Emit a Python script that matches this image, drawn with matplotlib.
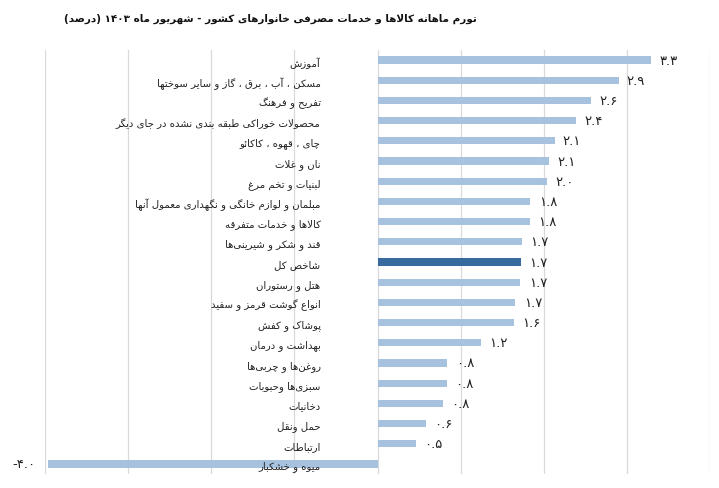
import re
import matplotlib
matplotlib.use('Agg')
import matplotlib.pyplot as plt

# chart data (top to bottom)
categories = [
    'آموزش',
    'مسکن ، آب ، برق ، گاز و سایر سوختها',
    'تفریح و فرهنگ',
    'محصولات خوراکی طبقه بندی نشده در جای دیگر',
    'چای ، قهوه ، کاکائو',
    'نان و غلات',
    'لبنیات و تخم مرغ',
    'مبلمان و لوازم خانگی و نگهداری معمول آنها',
    'کالاها و خدمات متفرقه',
    'قند و شکر و شیرینی\u200cها',
    'شاخص کل',
    'هتل و رستوران',
    'انواع گوشت قرمز و سفید',
    'پوشاک و کفش',
    'بهداشت و درمان',
    'روغن\u200cها و چربی\u200cها',
    'سبزی\u200cها وحبوبات',
    'دخانیات',
    'حمل ونقل',
    'ارتباطات',
    'میوه و خشکبار',
]
values = [3.29, 2.90, 2.57, 2.39, 2.13, 2.06, 2.04, 1.84, 1.83, 1.74, 1.73,
          1.72, 1.66, 1.64, 1.24, 0.84, 0.83, 0.79, 0.58, 0.46, -3.96]
highlight = 'شاخص کل'
title = 'تورم ماهانه کالاها و خدمات مصرفی خانوارهای کشور - شهریور ماه ۱۴۰۳ (درصد)'

# matplotlib has no arabic shaping, so do it by hand with presentation forms
# (isolated, final, initial, medial); right-joining letters have only two
FORMS = {
    'ا': ('\uFE8D', '\uFE8E'), 'آ': ('\uFE81', '\uFE82'),
    'ب': ('\uFE8F', '\uFE90', '\uFE91', '\uFE92'),
    'پ': ('\uFB56', '\uFB57', '\uFB58', '\uFB59'),
    'ت': ('\uFE95', '\uFE96', '\uFE97', '\uFE98'),
    'ث': ('\uFE99', '\uFE9A', '\uFE9B', '\uFE9C'),
    'ج': ('\uFE9D', '\uFE9E', '\uFE9F', '\uFEA0'),
    'چ': ('\uFB7A', '\uFB7B', '\uFB7C', '\uFB7D'),
    'ح': ('\uFEA1', '\uFEA2', '\uFEA3', '\uFEA4'),
    'خ': ('\uFEA5', '\uFEA6', '\uFEA7', '\uFEA8'),
    'د': ('\uFEA9', '\uFEAA'), 'ذ': ('\uFEAB', '\uFEAC'),
    'ر': ('\uFEAD', '\uFEAE'), 'ز': ('\uFEAF', '\uFEB0'),
    'ژ': ('\uFB8A', '\uFB8B'),
    'س': ('\uFEB1', '\uFEB2', '\uFEB3', '\uFEB4'),
    'ش': ('\uFEB5', '\uFEB6', '\uFEB7', '\uFEB8'),
    'ص': ('\uFEB9', '\uFEBA', '\uFEBB', '\uFEBC'),
    'ض': ('\uFEBD', '\uFEBE', '\uFEBF', '\uFEC0'),
    'ط': ('\uFEC1', '\uFEC2', '\uFEC3', '\uFEC4'),
    'ظ': ('\uFEC5', '\uFEC6', '\uFEC7', '\uFEC8'),
    'ع': ('\uFEC9', '\uFECA', '\uFECB', '\uFECC'),
    'غ': ('\uFECD', '\uFECE', '\uFECF', '\uFED0'),
    'ف': ('\uFED1', '\uFED2', '\uFED3', '\uFED4'),
    'ق': ('\uFED5', '\uFED6', '\uFED7', '\uFED8'),
    'ک': ('\uFB8E', '\uFB8F', '\uFB90', '\uFB91'),
    'گ': ('\uFB92', '\uFB93', '\uFB94', '\uFB95'),
    'ل': ('\uFEDD', '\uFEDE', '\uFEDF', '\uFEE0'),
    'م': ('\uFEE1', '\uFEE2', '\uFEE3', '\uFEE4'),
    'ن': ('\uFEE5', '\uFEE6', '\uFEE7', '\uFEE8'),
    'و': ('\uFEED', '\uFEEE'),
    'ه': ('\uFEE9', '\uFEEA', '\uFEEB', '\uFEEC'),
    'ی': ('\uFBFC', '\uFBFD', '\uFBFE', '\uFBFF'),
    'ئ': ('\uFE89', '\uFE8A', '\uFE8B', '\uFE8C'),
}
LAM_ALEF = {'ا': ('\uFEFB', '\uFEFC'), 'آ': ('\uFEF5', '\uFEF6')}


def dual(c):
    return c in FORMS and len(FORMS[c]) == 4


def shape(text):
    out = []
    i = 0
    n = len(text)
    while i < n:
        c = text[i]
        if c not in FORMS:
            if c != '\u200c':
                out.append(c)
            i += 1
            continue
        prev = text[i - 1] if i > 0 else ''
        joins_prev = dual(prev)
        if c == 'ل' and i + 1 < n and text[i + 1] in LAM_ALEF:
            out.append(LAM_ALEF[text[i + 1]][1 if joins_prev else 0])
            i += 2
            continue
        nxt = text[i + 1] if i + 1 < n else ''
        joins_next = dual(c) and nxt in FORMS
        f = FORMS[c]
        if joins_prev and joins_next:
            out.append(f[3])
        elif joins_prev:
            out.append(f[1])
        elif joins_next:
            out.append(f[2])
        else:
            out.append(f[0])
        i += 1
    return ''.join(out)


def rtl(text):
    runs = re.findall(r'[0-9\u06f0-\u06f9]+(?:\.[0-9\u06f0-\u06f9]+)*|.', shape(text))
    mirror = {'(': ')', ')': '('}
    return ''.join(mirror.get(r, r) for r in runs[::-1])


def fa_num(v):
    return f'{v:.1f}'.translate(str.maketrans('0123456789', '۰۱۲۳۴۵۶۷۸۹'))


light = '#a6c2df'
dark = '#376a9e'
colors = [dark if c == highlight else light for c in categories]

fig = plt.figure(figsize=(7.19, 4.89), dpi=100)
ax = fig.add_axes([0.0626, 0.0286, 0.9249, 0.8671])
y = list(range(len(categories)))
ax.barh(y, values, height=0.36, color=colors, zorder=2)

ax.set_xlim(-4, 4)
ax.set_ylim(len(categories) - 0.5, -0.5)
ax.set_xticks(range(-4, 5))
ax.set_yticks([])
ax.tick_params(axis='x', length=0, labelbottom=False)
ax.grid(axis='x', color='#d9d9d9', linewidth=0.9, zorder=0)
for s in ax.spines.values():
    s.set_visible(False)

for yi, cat, v in zip(y, categories, values):
    ax.annotate(rtl(cat), (0, yi), xytext=(-41, -1.5), textcoords='offset points',
                ha='right', va='center', fontsize=7.3, color='#222222', zorder=3)
    off = 6 if v >= 0 else -9
    ax.annotate(fa_num(v), (v, yi), xytext=(off, 0), textcoords='offset points',
                ha='left' if v >= 0 else 'right', va='center', fontsize=9.5,
                color='#222222', zorder=3)

fig.text(0.3755, 0.962, rtl(title), ha='center', va='center', fontsize=7.5,
         fontweight='bold', color='#111111')

fig.savefig('out.png', dpi=100)
